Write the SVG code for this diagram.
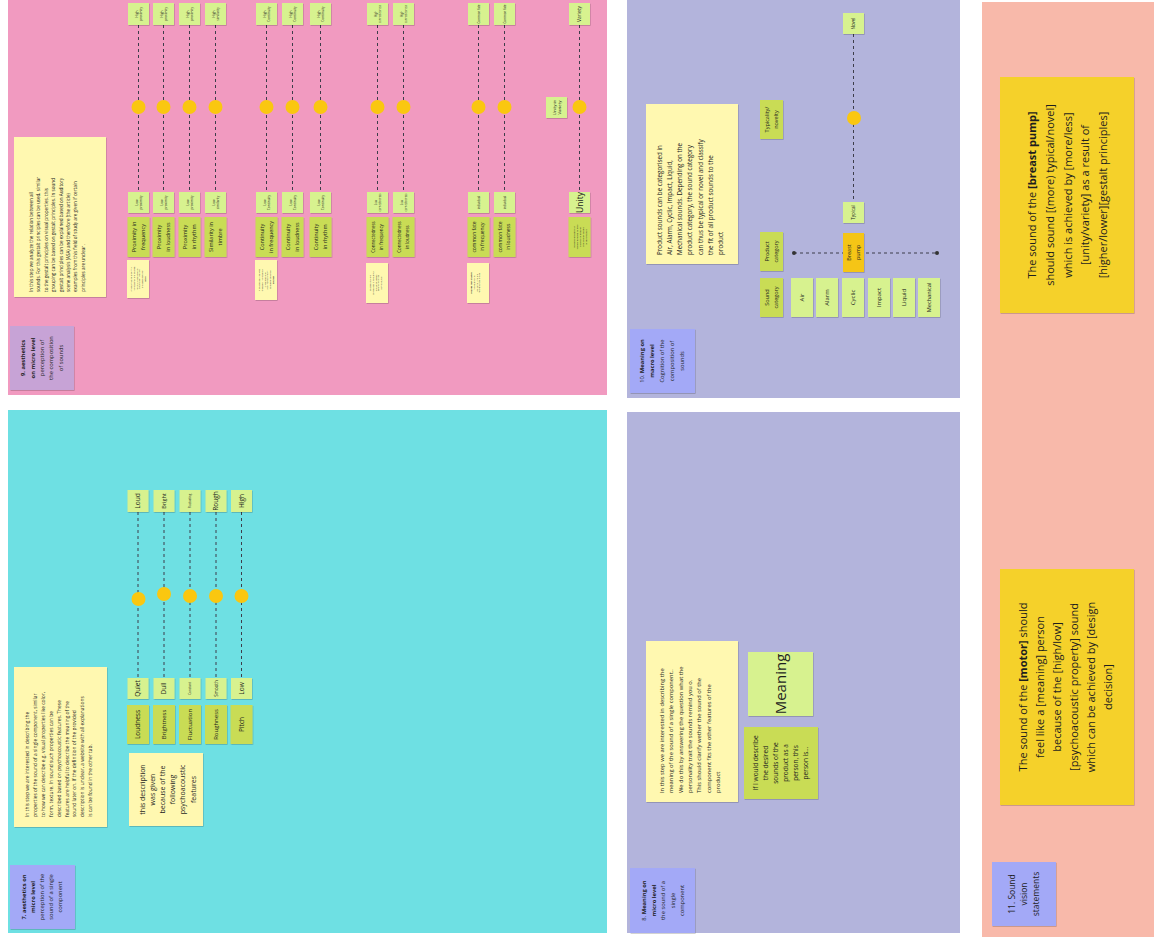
<svg xmlns="http://www.w3.org/2000/svg" width="1154" height="940" viewBox="0 0 1154 940">
<defs>
<filter id="sh" x="-20%" y="-20%" width="140%" height="140%"><feDropShadow dx="0.6" dy="0.8" stdDeviation="0.7" flood-color="#000" flood-opacity="0.22"/></filter>
<style>
text{font-family:"Open Sans","Liberation Sans",sans-serif;fill:#1e1e1e}
.c{text-anchor:middle}
.lg{fill:#d7f28f;filter:url(#sh)}
.dg{fill:#c9dc54;filter:url(#sh)}
.ly{fill:#fff8b0;filter:url(#sh)}
.yy{fill:#f5d12a;filter:url(#sh)}
.lab{fill:#a3a9f7;filter:url(#sh)}
.dash{stroke:#3d3d4a;stroke-width:1;stroke-dasharray:3 3;fill:none}
.dot{fill:#fac710}
.b{font-weight:bold}
</style>
</defs>
<rect width="1154" height="940" fill="#ffffff"/>
<!-- panels -->
<rect x="8" y="0" width="599" height="395" fill="#f19ac0"/>
<rect x="627" y="0" width="333" height="398" fill="#b3b4dc"/>
<rect x="8" y="410" width="599" height="523" fill="#6ee0e3"/>
<rect x="627" y="412" width="333" height="521" fill="#b3b4dc"/>
<rect x="982" y="2" width="172" height="935" fill="#f8b9aa"/>

<g id="connectors">
<line class="dash" x1="138.5" y1="25" x2="138.5" y2="192"/>
<line class="dash" x1="163.5" y1="25" x2="163.5" y2="192"/>
<line class="dash" x1="189.5" y1="25" x2="189.5" y2="192"/>
<line class="dash" x1="215.5" y1="25" x2="215.5" y2="192"/>
<line class="dash" x1="266.5" y1="25" x2="266.5" y2="192"/>
<line class="dash" x1="292.5" y1="25" x2="292.5" y2="192"/>
<line class="dash" x1="320.5" y1="25" x2="320.5" y2="192"/>
<line class="dash" x1="377.5" y1="25" x2="377.5" y2="192"/>
<line class="dash" x1="403.5" y1="25" x2="403.5" y2="192"/>
<line class="dash" x1="478.5" y1="25" x2="478.5" y2="192"/>
<line class="dash" x1="504.5" y1="25" x2="504.5" y2="192"/>
<line class="dash" x1="579.5" y1="25" x2="579.5" y2="192"/>
<line class="dash" x1="138" y1="512" x2="138" y2="678"/>
<line class="dash" x1="164" y1="512" x2="164" y2="678"/>
<line class="dash" x1="190" y1="512" x2="190" y2="678"/>
<line class="dash" x1="216" y1="512" x2="216" y2="678"/>
<line class="dash" x1="241.5" y1="512" x2="241.5" y2="678"/>
<line class="dash" x1="853.5" y1="34" x2="853.5" y2="202"/>
<line class="dash" x1="794" y1="253" x2="937" y2="253"/>
<circle cx="794" cy="253" r="2" fill="#333"/>
<circle cx="937" cy="253" r="2" fill="#333"/>
</g>

<g id="sliders">
<circle class="dot" cx="138.5" cy="107" r="7"/><circle class="dot" cx="163.5" cy="107" r="7"/><circle class="dot" cx="189.5" cy="107" r="7"/><circle class="dot" cx="215.5" cy="107" r="7"/>
<circle class="dot" cx="266.5" cy="107" r="7"/><circle class="dot" cx="292.5" cy="107" r="7"/><circle class="dot" cx="320.5" cy="107" r="7"/>
<circle class="dot" cx="377.5" cy="107" r="7"/><circle class="dot" cx="403.5" cy="107" r="7"/>
<circle class="dot" cx="478.5" cy="107" r="7"/><circle class="dot" cx="504.5" cy="107" r="7"/><circle class="dot" cx="579.5" cy="107" r="7"/>
<circle class="dot" cx="138.5" cy="599" r="7"/><circle class="dot" cx="164" cy="594" r="7"/><circle class="dot" cx="190" cy="596" r="7"/><circle class="dot" cx="216" cy="596" r="7"/><circle class="dot" cx="241.5" cy="596" r="7"/>
<circle class="dot" cx="854" cy="118" r="7"/>
</g>

<!-- ===== PINK PANEL ===== -->
<g id="label9">
<rect x="10" y="326" width="64" height="64" fill="#c7a3d6" filter="url(#sh)"/>
<g transform="translate(42,358) rotate(-90)" font-size="5.8">
<text class="c"><tspan x="0" y="-16.6" class="b">9. aesthetics</tspan><tspan x="0" y="-7.3" class="b">on micro level</tspan><tspan x="0" y="2">perception of</tspan><tspan x="0" y="11.3">the composition</tspan><tspan x="0" y="20.6">of sounds</tspan></text>
</g>
</g>
<g id="note9">
<rect class="ly" x="14" y="137" width="92" height="160"/>
<g transform="translate(0,292) rotate(-90)" font-size="4.6">
<text><tspan x="0" y="33">In this step we analyze the relation between all</tspan><tspan x="0" y="40.4">sounds. For this gestalt principles can be used, similar</tspan><tspan x="0" y="47.8">to the gestalt principles on visual properties. this</tspan><tspan x="0" y="55.2">grouping can be based on gestalt principles. In sound</tspan><tspan x="0" y="62.6">gestalt principles can be explained based on Auditory</tspan><tspan x="0" y="70">scene analysis (ASA) and therefore (the article)</tspan><tspan x="0" y="77.4">examples from this field of study are given if certain</tspan><tspan x="0" y="84.8">principles are unclear .</tspan></text>
</g>
</g>

<g id="pink-top">
<g id="hp1"><rect class="lg" x="128" y="3" width="21" height="22"/><g transform="translate(138.5,14) rotate(-90)" font-size="3.2"><text class="c"><tspan x="0" y="-0.9">High</tspan><tspan x="0" y="3.1">proximity</tspan></text></g></g>
<g id="hp2"><rect class="lg" x="153" y="3" width="21" height="22"/><g transform="translate(163.5,14) rotate(-90)" font-size="3.2"><text class="c"><tspan x="0" y="-0.9">High</tspan><tspan x="0" y="3.1">proximity</tspan></text></g></g>
<g id="hp3"><rect class="lg" x="179" y="3" width="21" height="22"/><g transform="translate(189.5,14) rotate(-90)" font-size="3.2"><text class="c"><tspan x="0" y="-0.9">High</tspan><tspan x="0" y="3.1">proximity</tspan></text></g></g>
<g id="hs4"><rect class="lg" x="205" y="3" width="21" height="22"/><g transform="translate(215.5,14) rotate(-90)" font-size="3.2"><text class="c"><tspan x="0" y="-0.9">High</tspan><tspan x="0" y="3.1">similarity</tspan></text></g></g>
<g id="hc5"><rect class="lg" x="256" y="3" width="21" height="22"/><g transform="translate(266.5,14) rotate(-90)" font-size="3.2"><text class="c"><tspan x="0" y="-0.9">High</tspan><tspan x="0" y="3.1">Continuity</tspan></text></g></g>
<g id="hc6"><rect class="lg" x="282" y="3" width="21" height="22"/><g transform="translate(292.5,14) rotate(-90)" font-size="3.2"><text class="c"><tspan x="0" y="-0.9">High</tspan><tspan x="0" y="3.1">Continuity</tspan></text></g></g>
<g id="hc7"><rect class="lg" x="310" y="3" width="21" height="22"/><g transform="translate(320.5,14) rotate(-90)" font-size="3.2"><text class="c"><tspan x="0" y="-0.9">High</tspan><tspan x="0" y="3.1">Continuity</tspan></text></g></g>
<g id="hn8"><rect class="lg" x="367" y="3" width="21" height="22"/><g transform="translate(377.5,14) rotate(-90)" font-size="2.6"><text class="c"><tspan x="0" y="-0.9">High</tspan><tspan x="0" y="3.1">connectedness</tspan></text></g></g>
<g id="hn9"><rect class="lg" x="393" y="3" width="21" height="22"/><g transform="translate(403.5,14) rotate(-90)" font-size="2.6"><text class="c"><tspan x="0" y="-0.9">High</tspan><tspan x="0" y="3.1">connectedness</tspan></text></g></g>
<g id="hf10"><rect class="lg" x="468" y="3" width="21" height="22"/><g transform="translate(478.5,14) rotate(-90)" font-size="3"><text class="c"><tspan x="0" y="1">Common fate</tspan></text></g></g>
<g id="hf11"><rect class="lg" x="494" y="3" width="21" height="22"/><g transform="translate(504.5,14) rotate(-90)" font-size="3"><text class="c"><tspan x="0" y="1">Common fate</tspan></text></g></g>
<g id="hv12"><rect class="lg" x="569" y="3" width="21" height="22"/><g transform="translate(579.5,14) rotate(-90)" font-size="5"><text class="c"><tspan x="0" y="1.8">Variety</tspan></text></g></g>
</g>

<g id="unity-in-variety"><rect class="lg" x="546" y="97" width="21" height="21"/><g transform="translate(556.5,107.5) rotate(-90)" font-size="4.3"><text class="c"><tspan x="0" y="-1">Unity in</tspan><tspan x="0" y="4">Variety</tspan></text></g></g>

<g id="pink-low">
<g id="lp1"><rect class="lg" x="128" y="192" width="21" height="21"/><g transform="translate(138.5,202.5) rotate(-90)" font-size="3.2"><text class="c"><tspan x="0" y="-0.9">Low</tspan><tspan x="0" y="3.1">proximity</tspan></text></g></g>
<g id="lp2"><rect class="lg" x="153" y="192" width="21" height="21"/><g transform="translate(163.5,202.5) rotate(-90)" font-size="3.2"><text class="c"><tspan x="0" y="-0.9">Low</tspan><tspan x="0" y="3.1">proximity</tspan></text></g></g>
<g id="lp3"><rect class="lg" x="179" y="192" width="21" height="21"/><g transform="translate(189.5,202.5) rotate(-90)" font-size="3.2"><text class="c"><tspan x="0" y="-0.9">Low</tspan><tspan x="0" y="3.1">proximity</tspan></text></g></g>
<g id="ls4"><rect class="lg" x="205" y="192" width="21" height="21"/><g transform="translate(215.5,202.5) rotate(-90)" font-size="3.2"><text class="c"><tspan x="0" y="-0.9">Low</tspan><tspan x="0" y="3.1">similarity</tspan></text></g></g>
<g id="lc5"><rect class="lg" x="256" y="192" width="21" height="21"/><g transform="translate(266.5,202.5) rotate(-90)" font-size="3.2"><text class="c"><tspan x="0" y="-0.9">Low</tspan><tspan x="0" y="3.1">Continuity</tspan></text></g></g>
<g id="lc6"><rect class="lg" x="282" y="192" width="21" height="21"/><g transform="translate(292.5,202.5) rotate(-90)" font-size="3.2"><text class="c"><tspan x="0" y="-0.9">Low</tspan><tspan x="0" y="3.1">Continuity</tspan></text></g></g>
<g id="lc7"><rect class="lg" x="310" y="192" width="21" height="21"/><g transform="translate(320.5,202.5) rotate(-90)" font-size="3.2"><text class="c"><tspan x="0" y="-0.9">Low</tspan><tspan x="0" y="3.1">Continuity</tspan></text></g></g>
<g id="ln8"><rect class="lg" x="367" y="192" width="21" height="21"/><g transform="translate(377.5,202.5) rotate(-90)" font-size="2.6"><text class="c"><tspan x="0" y="-0.9">Low</tspan><tspan x="0" y="3.1">connectedness</tspan></text></g></g>
<g id="ln9"><rect class="lg" x="393" y="192" width="21" height="21"/><g transform="translate(403.5,202.5) rotate(-90)" font-size="2.6"><text class="c"><tspan x="0" y="-0.9">Low</tspan><tspan x="0" y="3.1">connectedness</tspan></text></g></g>
<g id="lf10"><rect class="lg" x="468" y="192" width="21" height="21"/><g transform="translate(478.5,202.5) rotate(-90)" font-size="3"><text class="c"><tspan x="0" y="1">individual</tspan></text></g></g>
<g id="lf11"><rect class="lg" x="494" y="192" width="21" height="21"/><g transform="translate(504.5,202.5) rotate(-90)" font-size="3"><text class="c"><tspan x="0" y="1">individual</tspan></text></g></g>
<g id="lu12"><rect class="lg" x="569" y="192" width="21" height="21"/><g transform="translate(579.5,202.5) rotate(-90)" font-size="8.5"><text class="c"><tspan x="0" y="3">Unity</tspan></text></g></g>
</g>

<g id="pink-principles" font-size="5.5">
<g id="p1"><rect class="dg" x="127.5" y="217" width="22" height="40"/><g transform="translate(138.5,237) rotate(-90)"><text class="c"><tspan x="0" y="-2.3">Proximity in</tspan><tspan x="0" y="6.1">frequency</tspan></text></g></g>
<g id="p2"><rect class="dg" x="152.5" y="217" width="22" height="40"/><g transform="translate(163.5,237) rotate(-90)"><text class="c"><tspan x="0" y="-2.3">Proximity</tspan><tspan x="0" y="6.1">in loudness</tspan></text></g></g>
<g id="p3"><rect class="dg" x="178.5" y="217" width="22" height="40"/><g transform="translate(189.5,237) rotate(-90)"><text class="c"><tspan x="0" y="-2.3">Proximity</tspan><tspan x="0" y="6.1">in rhythm</tspan></text></g></g>
<g id="p4"><rect class="dg" x="204.5" y="217" width="22" height="40"/><g transform="translate(215.5,237) rotate(-90)"><text class="c"><tspan x="0" y="-2.3">Similarity in</tspan><tspan x="0" y="6.1">timbre</tspan></text></g></g>
<g id="p5"><rect class="dg" x="255.5" y="217" width="22" height="40"/><g transform="translate(266.5,237) rotate(-90)"><text class="c"><tspan x="0" y="-2.3">Continuity</tspan><tspan x="0" y="6.1">in frequency</tspan></text></g></g>
<g id="p6"><rect class="dg" x="281.5" y="217" width="22" height="40"/><g transform="translate(292.5,237) rotate(-90)"><text class="c"><tspan x="0" y="-2.3">Continuity</tspan><tspan x="0" y="6.1">in loudness</tspan></text></g></g>
<g id="p7"><rect class="dg" x="309.5" y="217" width="22" height="40"/><g transform="translate(320.5,237) rotate(-90)"><text class="c"><tspan x="0" y="-2.3">Continuity</tspan><tspan x="0" y="6.1">in rhythm</tspan></text></g></g>
<g id="p8"><rect class="dg" x="366.5" y="217" width="22" height="40"/><g transform="translate(377.5,237) rotate(-90)" font-size="4.4"><text class="c"><tspan x="0" y="-2.6">Connectedness</tspan><tspan x="0" y="5.6">in frequency</tspan></text></g></g>
<g id="p9"><rect class="dg" x="392.5" y="217" width="22" height="40"/><g transform="translate(403.5,237) rotate(-90)" font-size="4.4"><text class="c"><tspan x="0" y="-2.6">Connectedness</tspan><tspan x="0" y="5.6">in loudness</tspan></text></g></g>
<g id="p10"><rect class="dg" x="467.5" y="217" width="22" height="40"/><g transform="translate(478.5,237) rotate(-90)" font-size="5"><text class="c"><tspan x="0" y="-2.4">common fate</tspan><tspan x="0" y="5.8">in frequency</tspan></text></g></g>
<g id="p11"><rect class="dg" x="493.5" y="217" width="22" height="40"/><g transform="translate(504.5,237) rotate(-90)" font-size="5"><text class="c"><tspan x="0" y="-2.4">common fate</tspan><tspan x="0" y="5.8">in loudness</tspan></text></g></g>
<g id="p12"><rect class="dg" x="568.5" y="217" width="22" height="40"/><g transform="translate(579.5,237) rotate(-90)" font-size="2.4"><text class="c"><tspan x="0" y="-5">Relative amount of</tspan><tspan x="0" y="-2">variety needed to give</tspan><tspan x="0" y="1">a sense of unity in</tspan><tspan x="0" y="4">the overall sound</tspan><tspan x="0" y="7">of the product</tspan></text></g></g>
</g>

<g id="pink-examples" font-size="2.2">
<g id="ex1"><rect class="ly" x="127" y="260" width="22" height="38"/><g transform="translate(138,279) rotate(-90)"><text class="c"><tspan x="0" y="-6">An example of proximity</tspan><tspan x="0" y="-3.2">in frequency are sounds</tspan><tspan x="0" y="-0.4">with pitches close to</tspan><tspan x="0" y="2.4">each other that are</tspan><tspan x="0" y="5.2">grouped together</tspan><tspan x="0" y="8" class="b">pitch</tspan></text></g></g>
<g id="ex5"><rect class="ly" x="255" y="260" width="22" height="40"/><g transform="translate(266,280) rotate(-90)"><text class="c"><tspan x="0" y="-6">A sound that changes</tspan><tspan x="0" y="-3.2">gradually in frequency</tspan><tspan x="0" y="-0.4">is heard as one</tspan><tspan x="0" y="2.4">continuous stream</tspan><tspan x="0" y="5.2">instead of separate</tspan><tspan x="0" y="8" class="b">sounds</tspan></text></g></g>
<g id="ex8"><rect class="ly" x="366" y="263" width="22" height="40"/><g transform="translate(377,283) rotate(-90)"><text class="c"><tspan x="0" y="-6">Sounds that are</tspan><tspan x="0" y="-3.2">connected in frequency</tspan><tspan x="0" y="-0.4">are perceived as</tspan><tspan x="0" y="2.4">belonging to the</tspan><tspan x="0" y="5.2">same source</tspan></text></g></g>
<g id="ex10"><rect class="ly" x="467" y="263" width="22" height="40"/><g transform="translate(478,283) rotate(-90)"><text class="c"><tspan x="0" y="-6" class="b">Sounds that change</tspan><tspan x="0" y="-3.2">in frequency at</tspan><tspan x="0" y="-0.4">the same time are</tspan><tspan x="0" y="2.4">heard as one group</tspan></text></g></g>
</g>

<!-- ===== PURPLE TOP (10) ===== -->
<g id="note10">
<rect class="ly" x="646" y="104" width="92" height="160"/>
<g transform="translate(0,255) rotate(-90)" font-size="6.3">
<text><tspan x="0" y="661.8">Product sounds can be categorised in</tspan><tspan x="0" y="672">Air, Alarm, Cyclic, Impact, Liquid,</tspan><tspan x="0" y="682.2">Mechanical sounds. Depending on the</tspan><tspan x="0" y="692.4">product category, the sound category</tspan><tspan x="0" y="702.6">can thus be typical or novel and classify</tspan><tspan x="0" y="712.8">the fit of all product sounds to the</tspan><tspan x="0" y="723">product</tspan></text>
</g>
</g>
<g id="typicality"><rect class="dg" x="760" y="100" width="23" height="39"/><g transform="translate(771.5,119.5) rotate(-90)" font-size="5.5"><text class="c"><tspan x="0" y="-2.3">Typicality/</tspan><tspan x="0" y="6.1">novelty</tspan></text></g></g>
<g id="novel"><rect class="lg" x="843" y="13" width="21" height="21"/><g transform="translate(853.5,23.5) rotate(-90)" font-size="4.5"><text class="c"><tspan x="0" y="1.6">Novel</tspan></text></g></g>
<g id="typical"><rect class="lg" x="843" y="202" width="21" height="21"/><g transform="translate(853.5,212.5) rotate(-90)" font-size="4.5"><text class="c"><tspan x="0" y="1.6">Typical</tspan></text></g></g>
<g id="product-category"><rect class="dg" x="760" y="232" width="23" height="39"/><g transform="translate(771.5,251.5) rotate(-90)" font-size="5.5"><text class="c"><tspan x="0" y="-2.3">Product</tspan><tspan x="0" y="6.1">category</tspan></text></g></g>
<g id="breast-pump"><rect x="843" y="233" width="21" height="39" fill="#f5c518" filter="url(#sh)"/><g transform="translate(853.5,252.5) rotate(-90)" font-size="5.5"><text class="c"><tspan x="0" y="-2.3">Breast</tspan><tspan x="0" y="6.1">pump</tspan></text></g></g>
<g id="sound-category"><rect class="dg" x="760" y="278" width="23" height="39"/><g transform="translate(771.5,297.5) rotate(-90)" font-size="5.5"><text class="c"><tspan x="0" y="-2.3">Sound</tspan><tspan x="0" y="6.1">category</tspan></text></g></g>
<g id="cat-air"><rect class="lg" x="791" y="278" width="22" height="39"/><g transform="translate(802,297.5) rotate(-90)" font-size="6"><text class="c"><tspan x="0" y="2.1">Air</tspan></text></g></g>
<g id="cat-alarm"><rect class="lg" x="816" y="278" width="22" height="39"/><g transform="translate(827,297.5) rotate(-90)" font-size="6"><text class="c"><tspan x="0" y="2.1">Alarm</tspan></text></g></g>
<g id="cat-cyclic"><rect class="lg" x="842" y="278" width="22" height="39"/><g transform="translate(853,297.5) rotate(-90)" font-size="6"><text class="c"><tspan x="0" y="2.1">Cyclic</tspan></text></g></g>
<g id="cat-impact"><rect class="lg" x="868" y="278" width="22" height="39"/><g transform="translate(879,297.5) rotate(-90)" font-size="6"><text class="c"><tspan x="0" y="2.1">Impact</tspan></text></g></g>
<g id="cat-liquid"><rect class="lg" x="893" y="278" width="22" height="39"/><g transform="translate(904,297.5) rotate(-90)" font-size="6"><text class="c"><tspan x="0" y="2.1">Liquid</tspan></text></g></g>
<g id="cat-mechanical"><rect class="lg" x="918" y="278" width="22" height="39"/><g transform="translate(929,297.5) rotate(-90)" font-size="5.6"><text class="c"><tspan x="0" y="2">Mechanical</tspan></text></g></g>
<g id="label10">
<rect class="lab" x="630" y="329" width="65" height="64"/>
<g transform="translate(662,361) rotate(-90)" font-size="5.8">
<text class="c"><tspan x="0" y="-17.6">10. <tspan class="b">Meaning on</tspan></tspan><tspan x="0" y="-7.8" class="b">macro level</tspan><tspan x="0" y="2">Cognition of the</tspan><tspan x="0" y="11.8">composition of</tspan><tspan x="0" y="21.6">sounds</tspan></text>
</g>
</g>

<!-- ===== CYAN (7) ===== -->
<g id="note7">
<rect class="ly" x="14" y="667" width="93" height="160"/>
<g transform="translate(0,817) rotate(-90)" font-size="4.9">
<text><tspan x="0" y="29">In this step we are interested in describing the</tspan><tspan x="0" y="36.9">properties of the sound of a single component, similar</tspan><tspan x="0" y="44.8">to how we can describe e.g. visual properties like color,</tspan><tspan x="0" y="52.7">form, texture. In sound such properties can be</tspan><tspan x="0" y="60.6">described based on psychoacoustic features. These</tspan><tspan x="0" y="68.5">features are helpful to describe the meaning of the</tspan><tspan x="0" y="76.4">sound later on. If the definition of the provided</tspan><tspan x="0" y="84.3">description is unclear, a website with all explanations</tspan><tspan x="0" y="92.2">is can be found in the other tab.</tspan></text>
</g>
</g>
<g id="label7">
<rect class="lab" x="10" y="865" width="65" height="64"/>
<g transform="translate(41.5,897) rotate(-90)" font-size="5.8">
<text class="c"><tspan x="0" y="-16" class="b">7. aesthetics on</tspan><tspan x="0" y="-7" class="b">micro level</tspan><tspan x="0" y="2">perception of the</tspan><tspan x="0" y="11">sound of a single</tspan><tspan x="0" y="20">component</tspan></text>
</g>
</g>
<g id="note-psycho">
<rect class="ly" x="129" y="753" width="74" height="73"/>
<g transform="translate(167,789.5) rotate(-90)" font-size="7">
<text class="c"><tspan x="0" y="-22.5">this description</tspan><tspan x="0" y="-12.3">was given</tspan><tspan x="0" y="-2.1">because of the</tspan><tspan x="0" y="8.1">following</tspan><tspan x="0" y="18.3">psychoacoustic</tspan><tspan x="0" y="28.5">features</tspan></text>
</g>
</g>
<g id="cyan-top" font-size="6.5">
<g id="loud"><rect class="lg" x="127.5" y="490" width="21" height="22"/><g transform="translate(138,501) rotate(-90)"><text class="c"><tspan x="0" y="2.3">Loud</tspan></text></g></g>
<g id="bright"><rect class="lg" x="153.5" y="490" width="21" height="22"/><g transform="translate(164,501) rotate(-90)" font-size="5.5"><text class="c"><tspan x="0" y="2">Bright</tspan></text></g></g>
<g id="fluctuating"><rect class="lg" x="179.5" y="490" width="21" height="22"/><g transform="translate(190,501) rotate(-90)" font-size="2.8"><text class="c"><tspan x="0" y="1">Fluctuating</tspan></text></g></g>
<g id="rough"><rect class="lg" x="205.5" y="490" width="21" height="22"/><g transform="translate(216,501) rotate(-90)"><text class="c"><tspan x="0" y="2.3">Rough</tspan></text></g></g>
<g id="high"><rect class="lg" x="231" y="490" width="21" height="22"/><g transform="translate(241.5,501) rotate(-90)"><text class="c"><tspan x="0" y="2.3">High</tspan></text></g></g>
</g>
<g id="cyan-low" font-size="6.5">
<g id="quiet"><rect class="lg" x="127.5" y="678" width="21" height="21"/><g transform="translate(138,688.5) rotate(-90)"><text class="c"><tspan x="0" y="2.3">Quiet</tspan></text></g></g>
<g id="dull"><rect class="lg" x="153.5" y="678" width="21" height="21"/><g transform="translate(164,688.5) rotate(-90)"><text class="c"><tspan x="0" y="2.3">Dull</tspan></text></g></g>
<g id="constant"><rect class="lg" x="179.5" y="678" width="21" height="21"/><g transform="translate(190,688.5) rotate(-90)" font-size="3"><text class="c"><tspan x="0" y="1">Constant</tspan></text></g></g>
<g id="smooth"><rect class="lg" x="205.5" y="678" width="21" height="21"/><g transform="translate(216,688.5) rotate(-90)" font-size="4.5"><text class="c"><tspan x="0" y="1.6">Smooth</tspan></text></g></g>
<g id="low"><rect class="lg" x="231" y="678" width="21" height="21"/><g transform="translate(241.5,688.5) rotate(-90)"><text class="c"><tspan x="0" y="2.3">Low</tspan></text></g></g>
</g>
<g id="cyan-features" font-size="6.5">
<g id="loudness"><rect class="dg" x="127" y="705" width="22" height="39"/><g transform="translate(138,724.5) rotate(-90)"><text class="c"><tspan x="0" y="2.3">Loudness</tspan></text></g></g>
<g id="brightness"><rect class="dg" x="153" y="705" width="22" height="39"/><g transform="translate(164,724.5) rotate(-90)" font-size="6"><text class="c"><tspan x="0" y="2.1">Brightness</tspan></text></g></g>
<g id="fluctuation"><rect class="dg" x="179" y="705" width="22" height="39"/><g transform="translate(190,724.5) rotate(-90)" font-size="6"><text class="c"><tspan x="0" y="2.1">Fluctuation</tspan></text></g></g>
<g id="roughness"><rect class="dg" x="205" y="705" width="22" height="39"/><g transform="translate(216,724.5) rotate(-90)" font-size="6"><text class="c"><tspan x="0" y="2.1">Roughness</tspan></text></g></g>
<g id="pitch"><rect class="dg" x="230.5" y="705" width="22" height="39"/><g transform="translate(241.5,724.5) rotate(-90)"><text class="c"><tspan x="0" y="2.3">Pitch</tspan></text></g></g>
</g>

<!-- ===== PURPLE LOWER (8) ===== -->
<g id="note8">
<rect class="ly" x="646" y="641" width="92" height="161"/>
<g transform="translate(0,793) rotate(-90)" font-size="5.8">
<text><tspan x="0" y="664">In this step we are interested in describing the</tspan><tspan x="0" y="673.3">meaning of the sound of a single component..</tspan><tspan x="0" y="682.6">We do this by answering the question what the</tspan><tspan x="0" y="691.9">personality trait the sounds remind you o.</tspan><tspan x="0" y="701.2">This should clarify wether the sound of the</tspan><tspan x="0" y="710.5">component fits the other features of the</tspan><tspan x="0" y="719.8">product</tspan></text>
</g>
</g>
<g id="meaning"><rect class="lg" x="748" y="652" width="65" height="64"/><g transform="translate(780.5,684) rotate(-90)" font-size="15"><text class="c"><tspan x="0" y="5.2">Meaning</tspan></text></g></g>
<g id="person"><rect class="dg" x="744" y="727" width="74" height="72"/><g transform="translate(781,763) rotate(-90)" font-size="6.5">
<text class="c"><tspan x="0" y="-23">If I would describe</tspan><tspan x="0" y="-13">the desired</tspan><tspan x="0" y="-3">sounds of the</tspan><tspan x="0" y="7">product as a</tspan><tspan x="0" y="17">person, this</tspan><tspan x="0" y="27">person is...</tspan></text></g></g>
<g id="label8">
<rect class="lab" x="630" y="868" width="65" height="65"/>
<g transform="translate(663,900.5) rotate(-90)" font-size="5.8">
<text class="c"><tspan x="0" y="-17">8. <tspan class="b">Meaning on</tspan></tspan><tspan x="0" y="-7.5" class="b">micro level</tspan><tspan x="0" y="2">the sound of a</tspan><tspan x="0" y="11.5">single</tspan><tspan x="0" y="21">component</tspan></text>
</g>
</g>

<!-- ===== SALMON (11) ===== -->
<g id="statement1">
<rect class="yy" x="1000" y="77" width="134" height="236"/>
<g transform="translate(1067.5,195) rotate(-90)" font-size="11">
<text class="c"><tspan x="0" y="-31.2">The sound of the <tspan class="b">[breast pump]</tspan></tspan><tspan x="0" y="-13.6">should sound [(more) typical/novel]</tspan><tspan x="0" y="4">which is achieved by [more/less]</tspan><tspan x="0" y="21.6">[unity/variety] as a result of</tspan><tspan x="0" y="39.2">[higher/lower][gestalt principles]</tspan></text>
</g>
</g>
<g id="statement2">
<rect class="yy" x="1000" y="569" width="134" height="236"/>
<g transform="translate(1065.5,687) rotate(-90)" font-size="11">
<text class="c"><tspan x="0" y="-38.5">The sound of the <tspan class="b">[motor]</tspan> should</tspan><tspan x="0" y="-21.5">feel like a [meaning] person</tspan><tspan x="0" y="-4.5">because of the [high/low]</tspan><tspan x="0" y="12.5">[psychoacoustic property] sound</tspan><tspan x="0" y="29.5">which can be achieved by [design</tspan><tspan x="0" y="46.5">decision]</tspan></text>
</g>
</g>
<g id="label11">
<rect class="lab" x="992" y="862" width="64" height="64"/>
<g transform="translate(1024,894) rotate(-90)" font-size="8.5">
<text class="c"><tspan x="0" y="-9">11. Sound</tspan><tspan x="0" y="3">vision</tspan><tspan x="0" y="15">statements</tspan></text>
</g>
</g>
</svg>
